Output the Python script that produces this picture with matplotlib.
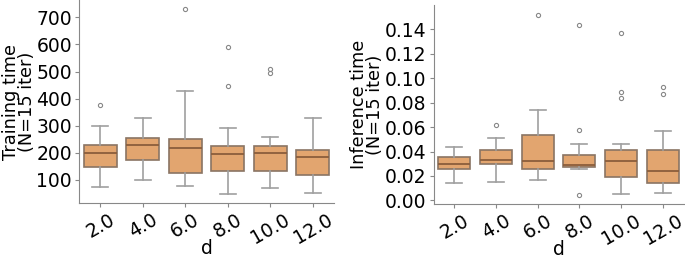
import matplotlib
matplotlib.use("Agg")
import matplotlib.pyplot as plt

# d values (categories)
d_labels = ["2.0", "4.0", "6.0", "8.0", "10.0", "12.0"]

# Training time box stats
train_whislo = [73, 99, 77, 48, 70, 52]
train_q1 = [148, 173, 127, 132, 132, 117]
train_med = [200, 230, 219, 196, 201, 185]
train_q3 = [228, 256, 252, 226, 226, 210]
train_whishi = [299, 330, 427, 293, 257, 330]
train_fliers = [[378], [], [730], [447, 589], [494, 510], []]

# Inference time box stats
inf_whislo = [0.0144, 0.0150, 0.0169, 0.0253, 0.0054, 0.0060]
inf_q1 = [0.0261, 0.0299, 0.0258, 0.0272, 0.0193, 0.0144]
inf_med = [0.0294, 0.0332, 0.0324, 0.0288, 0.0324, 0.0242]
inf_q3 = [0.0356, 0.0411, 0.0536, 0.0373, 0.0413, 0.0413]
inf_whishi = [0.0435, 0.0511, 0.0737, 0.0462, 0.0462, 0.0568]
inf_fliers = [[], [0.0617], [0.152], [0.0044, 0.0577, 0.1436],
              [0.084, 0.0889, 0.137], [0.0868, 0.093]]

fill = "#E2A56F"
edge = "#8a7463"
med_col = "#8B5E3C"
whisk = "#a0a0a0"


def make_stats(lo, q1, med, q3, hi, fl):
    return [dict(whislo=a, q1=b, med=c, q3=e, whishi=f, fliers=g)
            for a, b, c, e, f, g in zip(lo, q1, med, q3, hi, fl)]


def draw(ax, stats, ylabel, yticks, yfmt, ylab_x, xlab_y):
    ax.bxp(stats, positions=range(len(stats)), widths=0.77, patch_artist=True,
           showfliers=True,
           boxprops=dict(facecolor=fill, edgecolor=edge, linewidth=1.2),
           medianprops=dict(color=med_col, linewidth=1.3),
           whiskerprops=dict(color=whisk, linewidth=1.2),
           capprops=dict(color=whisk, linewidth=1.2),
           flierprops=dict(marker="o", markersize=3, markerfacecolor="none",
                           markeredgecolor="#888888", markeredgewidth=0.8))
    ax.set_xlim(-0.5, len(stats) - 0.5)
    ax.set_xticks(range(len(stats)))
    ax.set_xticklabels(d_labels, rotation=30, fontsize=13.5)
    ax.set_yticks(yticks)
    ax.set_yticklabels([yfmt.format(v) for v in yticks], fontsize=13.5)
    ax.set_xlabel("d", fontsize=13.5, va="baseline")
    ax.xaxis.set_label_coords(0.5, xlab_y)
    ax.set_ylabel(ylabel, fontsize=12.8, linespacing=0.85)
    ax.yaxis.set_label_coords(ylab_x, 0.5)
    for s in ["top", "right"]:
        ax.spines[s].set_visible(False)
    for s in ["left", "bottom"]:
        ax.spines[s].set_color("#888888")
    ax.tick_params(colors="#888888", labelcolor="black", length=3, pad=2)


fig = plt.figure(figsize=(6.85, 2.58), dpi=100)

ax1 = fig.add_axes([0.1153, 0.212, 0.3723, 0.788])
draw(ax1, make_stats(train_whislo, train_q1, train_med, train_q3, train_whishi, train_fliers),
     "Training time\n(N=15 iter)", [100, 200, 300, 400, 500, 600, 700], "{:.0f}",
     -0.17, -0.25)
ax1.set_ylim(14, 764)

ax2 = fig.add_axes([0.633, 0.209, 0.365, 0.772])
draw(ax2, make_stats(inf_whislo, inf_q1, inf_med, inf_q3, inf_whishi, inf_fliers),
     "Inference time\n(N=15 iter)", [0.0, 0.02, 0.04, 0.06, 0.08, 0.10, 0.12, 0.14], "{:.2f}",
     -0.198, -0.256)
ax2.set_ylim(-0.003, 0.160)

fig.savefig("out.png", dpi=100)
